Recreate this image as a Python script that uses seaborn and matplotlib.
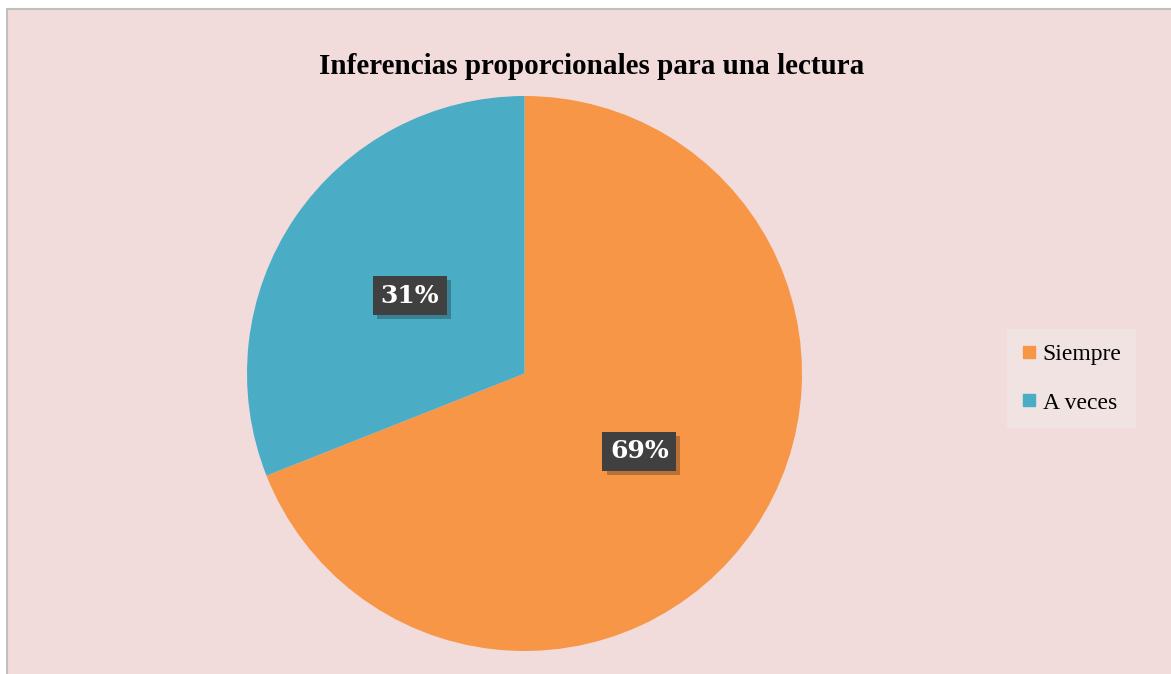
import matplotlib
matplotlib.use("Agg")
import matplotlib.pyplot as plt
import matplotlib.patheffects as pe
from matplotlib.patches import Rectangle
from matplotlib.lines import Line2D
import seaborn as sns

# data
categories = ["Siempre", "A veces"]
percentages = [69, 31]
slice_colors = ["#F79646", "#4BACC6"]
title_text = "Inferencias proporcionales para una lectura"

sns.set_style("white")
plt.rcParams["font.family"] = ["Liberation Serif", "DejaVu Serif"]
plt.rcParams["text.color"] = "black"

fig = plt.figure(figsize=(11.71, 6.74), dpi=100)
fig.patch.set_facecolor("white")

# chart area background with thin border (white margin top/left)
bg = Rectangle((7 / 1171, -0.01), 1.02, (674 - 9) / 674 + 0.01,
               transform=fig.transFigure, facecolor="#F2DCDB",
               edgecolor="#BFBFBF", linewidth=1.5, zorder=-5)
fig.patches.append(bg)

ax = fig.add_axes([247 / 1171, 23 / 674, 555 / 1171, 555 / 674])
ax.set_facecolor("none")
ax.set_zorder(2)

wedges, texts, autotexts = ax.pie(
    percentages, colors=slice_colors, startangle=90, counterclock=False,
    autopct=lambda p: f"{p:.0f}%", pctdistance=0.5,
    wedgeprops=dict(linewidth=0),
)
ax.set_xlim(-1, 1)
ax.set_ylim(-1, 1)
ax.set_aspect("equal")

for t in autotexts:
    t.set_fontfamily("DejaVu Serif")
    t.set_fontweight("bold")
    t.set_fontsize(18)
    t.set_color("white")
    t.set_bbox(dict(boxstyle="square,pad=0.3", facecolor="#404040",
                    edgecolor="none"))
    t.get_bbox_patch().set_path_effects([
        pe.SimplePatchShadow(offset=(3, -3), shadow_rgbFace="#000000", alpha=0.25),
        pe.Normal(),
    ])

fig.text(592 / 1171, 1 - 66 / 674, title_text, ha="center", va="center",
         fontsize=21, fontweight="bold", color="black")

handles = [Line2D([0], [0], marker="s", linestyle="none", markersize=8,
                  markerfacecolor=c, markeredgecolor=c) for c in slice_colors]
leg = fig.legend(handles, categories, loc="center",
                 bbox_to_anchor=(1071.5 / 1171, 1 - 378.5 / 674),
                 fontsize=17, frameon=True, fancybox=False,
                 labelspacing=1.15, handlelength=0.6, handletextpad=0.3,
                 borderpad=0.6, borderaxespad=0)
leg.get_frame().set_facecolor("#F2E3E3")
leg.get_frame().set_edgecolor("none")
leg.get_frame().set_alpha(1)
for txt in leg.get_texts():
    txt.set_color("black")

fig.savefig("out.png", dpi=100, facecolor=fig.get_facecolor())
